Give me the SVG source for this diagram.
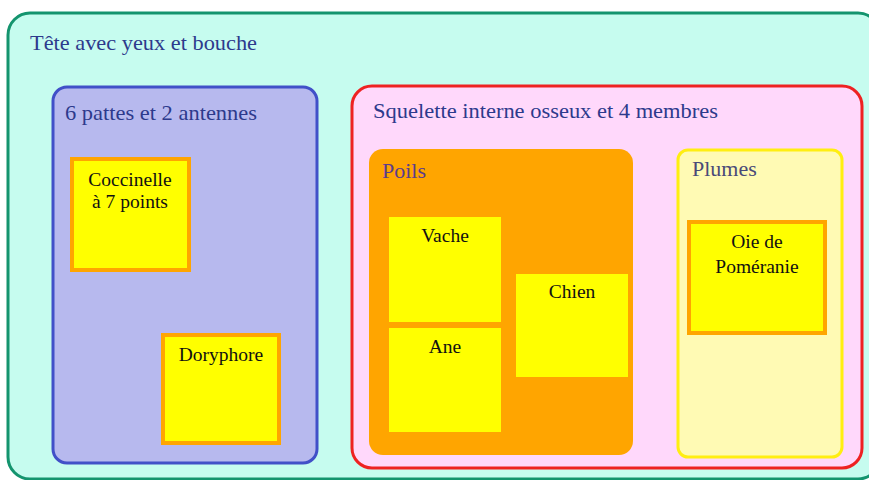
<svg xmlns="http://www.w3.org/2000/svg" width="869" height="480" viewBox="0 0 869 480">
<style>
.t{font-family:"Liberation Serif","Times New Roman",serif;}
.h{font-size:22px;fill:#2d3a8c;}
.n{font-size:19.5px;fill:#111;text-anchor:middle;}
.leaf{fill:#ffff00;stroke:#ffa500;stroke-width:4;}
.leaf2{fill:#ffff00;}
</style>
<rect width="869" height="480" fill="#ffffff"/>
<g id="tete">
<rect x="8" y="13" width="872" height="466" rx="22" fill="#c6fcef" stroke="#14946e" stroke-width="3"/>
<text class="t h" x="30" y="50" textLength="227" lengthAdjust="spacingAndGlyphs">Tête avec yeux et bouche</text>
</g>
<g id="insectes">
<rect x="53" y="87" width="264" height="376" rx="14" fill="#b7b9ee" stroke="#4150c8" stroke-width="3"/>
<text class="t h" x="65" y="120" textLength="192" lengthAdjust="spacingAndGlyphs">6 pattes et 2 antennes</text>
</g>
<g id="coccinelle">
<rect class="leaf" x="72" y="159" width="117" height="111"/>
<text class="t n" x="130" y="186">Coccinelle</text>
<text class="t n" x="130" y="208">à 7 points</text>
</g>
<g id="doryphore">
<rect class="leaf" x="163" y="335" width="116" height="108"/>
<text class="t n" x="221" y="361">Doryphore</text>
</g>
<g id="vertebres">
<rect x="352" y="86" width="510" height="382" rx="20" fill="#ffd8fb" stroke="#ee2222" stroke-width="3"/>
<text class="t h" x="373" y="118" textLength="345" lengthAdjust="spacingAndGlyphs">Squelette interne osseux et 4 membres</text>
</g>
<g id="poils">
<rect x="369" y="149" width="264" height="306" rx="14" fill="#ffa500"/>
<text class="t h" x="382" y="178" style="fill:#5b3c8c">Poils</text>
</g>
<g id="vache">
<rect class="leaf2" x="389" y="217" width="112" height="105"/>
<text class="t n" x="445" y="242">Vache</text>
</g>
<g id="ane">
<rect class="leaf2" x="389" y="328" width="112" height="104"/>
<text class="t n" x="445" y="353">Ane</text>
</g>
<g id="chien">
<rect class="leaf2" x="516" y="274" width="112" height="103"/>
<text class="t n" x="572" y="298">Chien</text>
</g>
<g id="plumes">
<rect x="678" y="150" width="164" height="307" rx="10" fill="#fffab4" stroke="#ffee11" stroke-width="3"/>
<text class="t h" x="692" y="176" style="fill:#4a4a78">Plumes</text>
</g>
<g id="oie">
<rect class="leaf" x="689" y="222" width="136" height="111"/>
<text class="t n" x="757" y="248">Oie de</text>
<text class="t n" x="757" y="273">Poméranie</text>
</g>
<g id="connectors"></g>
</svg>
